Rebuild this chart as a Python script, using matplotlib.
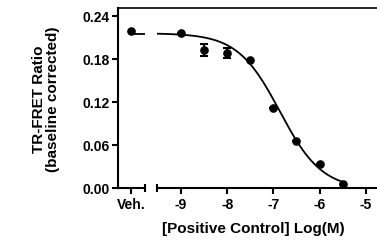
import numpy as np
import matplotlib
matplotlib.use("Agg")
import matplotlib.pyplot as plt
from matplotlib.lines import Line2D

plt.rcParams['font.family'] = ['Liberation Sans', 'DejaVu Sans']
plt.rcParams['font.weight'] = 'bold'

# data
veh_label = "Veh."
veh_value = 0.219
log_conc = [-9.0, -8.5, -8.0, -7.5, -7.0, -6.5, -6.0, -5.5]
ratio = [0.217, 0.1925, 0.1888, 0.1786, 0.111, 0.065, 0.0335, 0.0055]
ratio_err = [0.0, 0.008, 0.007, 0.0, 0.0, 0.0, 0.0, 0.0]
xticks = [-9, -8, -7, -6, -5]
yticks = [0.00, 0.06, 0.12, 0.18, 0.24]
# fitted 4PL parameters
fit_top, fit_bottom, fit_logic50, fit_hill = 0.216, -0.002, -6.86, 0.95

def fourpl(x):
    return fit_bottom + (fit_top - fit_bottom) / (1 + 10 ** ((x - fit_logic50) * fit_hill))

W, H = 377, 248
fig = plt.figure(figsize=(W / 100, H / 100), dpi=100)
y0, y1 = 188, 8
axL = fig.add_axes([118 / W, (H - y0) / H, (145 - 118) / W, (y0 - y1) / H])
axR = fig.add_axes([157 / W, (H - y0) / H, (W - 157) / W, (y0 - y1) / H])

ylim = (0, 0.2512)
lw = 1.5
for ax in (axL, axR):
    ax.set_ylim(*ylim)
    ax.spines['top'].set_visible(False)
    ax.spines['right'].set_visible(False)
    ax.spines['bottom'].set_linewidth(lw)
    ax.spines['left'].set_linewidth(lw)
    ax.tick_params(width=lw, length=4, labelsize=10, pad=2)
    ax.tick_params(axis='x', pad=3)
    ax.patch.set_alpha(0)
axR.spines['left'].set_visible(False)
axR.tick_params(axis='y', left=False, labelleft=False)

# left panel (vehicle)
axL.set_xlim(-1, 1.077)
axL.set_xticks([0])
axL.set_xticklabels([veh_label])
axL.set_yticks(yticks)
axL.set_yticklabels([f"{v:.2f}" for v in yticks])
axL.plot([0], [veh_value], 'o', color='black', ms=5.2, clip_on=False)
axL.plot([0, 1.077], [fourpl(-9.6)] * 2, color='black', lw=1.3)
axL.plot([1], [0], transform=axL.transAxes, marker='|', ms=6, mew=lw, color='black', clip_on=False)

# right panel
xmin, xmax = -9.52, -4.755
axR.set_xlim(xmin, xmax)
axR.set_xticks(xticks)
axR.set_xticklabels([str(t) for t in xticks])
xs = np.linspace(xmin, -5.5, 300)
axR.plot(xs, fourpl(xs), color='black', lw=1.3)
axR.errorbar(log_conc, ratio, yerr=ratio_err, fmt='o', color='black', ms=5.2,
             capsize=3.2, elinewidth=1.5, capthick=1.5, clip_on=False)
axR.plot([0], [0], transform=axR.transAxes, marker='|', ms=6, mew=lw, color='black', clip_on=False)

# top frame line
fig.add_artist(Line2D([118 / W, 1], [(H - 8) / H] * 2, color='black', lw=1.2))

fig.text(39 / W, 1 - 99 / H, "TR-FRET Ratio", rotation=90, ha='center', va='center', fontsize=11)
fig.text(53 / W, 1 - 99 / H, "(baseline corrected)", rotation=90, ha='center', va='center', fontsize=11)
fig.text(253 / W, 1 - 229 / H, "[Positive Control] Log(M)", ha='center', va='center', fontsize=11)

fig.savefig("out.png", dpi=100)
